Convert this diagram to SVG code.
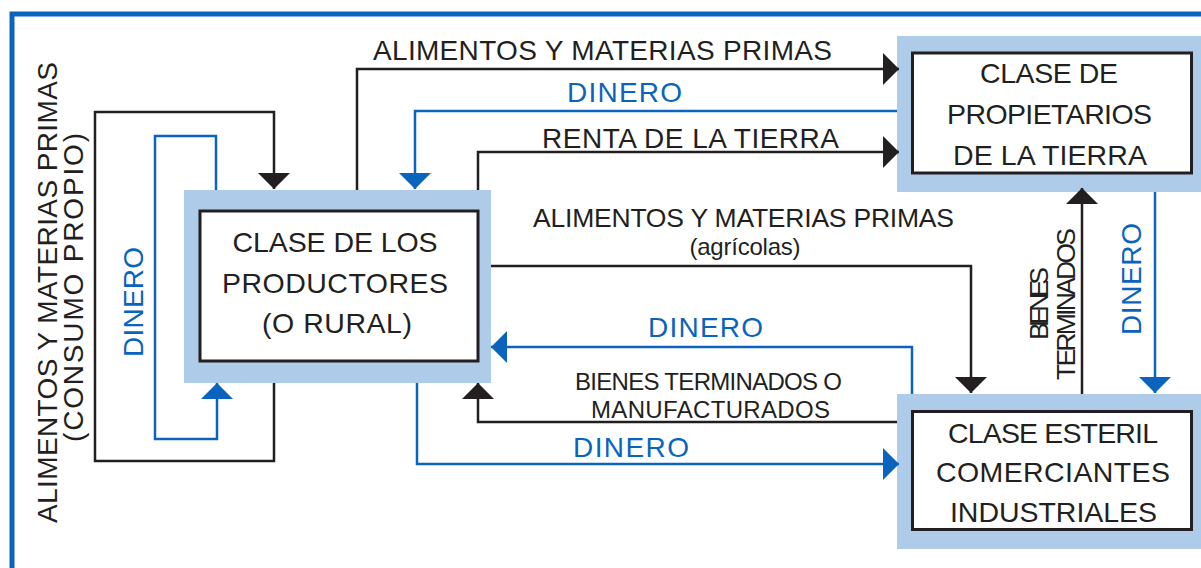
<svg xmlns="http://www.w3.org/2000/svg" width="1201" height="568" viewBox="0 0 1201 568">
<style>
  .halo { fill: #afcbea; }
  .box { fill: #ffffff; stroke: #231f20; stroke-width: 3; }
  .t { font-family: "Liberation Sans", Arial, sans-serif; fill: #231f20; text-anchor: middle; }
  .node { font-size: 28.5px; }
  .lbl { font-size: 28px; }
  .sm { font-size: 26.5px; }
  .xs { font-size: 24px; }
  .blue { fill: #0a64be; }
  .ck { fill: none; stroke: #231f20; stroke-width: 2.5; marker-end: url(#ak); }
  .cb { fill: none; stroke: #0a64be; stroke-width: 2.5; marker-end: url(#ab); }
</style>
<defs>
  <marker id="ak" viewBox="0 0 16 32" refX="16" refY="16" markerWidth="16" markerHeight="32" markerUnits="userSpaceOnUse" orient="auto">
    <path d="M0,0 L16,16 L0,32 Z" fill="#231f20"/>
  </marker>
  <marker id="ab" viewBox="0 0 16 32" refX="16" refY="16" markerWidth="16" markerHeight="32" markerUnits="userSpaceOnUse" orient="auto">
    <path d="M0,0 L16,16 L0,32 Z" fill="#0a64be"/>
  </marker>
</defs>
<rect width="1201" height="568" fill="#ffffff"/>
<path d="M12,568 V14 H1201" fill="none" stroke="#0a64be" stroke-width="5"/>

<g id="productores">
  <rect class="halo" x="184" y="190" width="307" height="193"/>
  <rect class="box" x="200" y="211" width="278" height="150"/>
  <text class="t node" x="335" y="252" textLength="205">CLASE DE LOS</text>
  <text class="t node" x="335" y="293" textLength="226">PRODUCTORES</text>
  <text class="t node" x="337" y="333" textLength="150">(O RURAL)</text>
</g>

<g id="propietarios">
  <rect class="halo" x="897" y="36" width="304" height="156"/>
  <rect class="box" x="912.5" y="53" width="279" height="120"/>
  <text class="t node" x="1049" y="83" textLength="138">CLASE DE</text>
  <text class="t node" x="1049.5" y="124" textLength="205">PROPIETARIOS</text>
  <text class="t node" x="1050" y="165" textLength="194">DE LA TIERRA</text>
</g>

<g id="esteril">
  <rect class="halo" x="897" y="394" width="304" height="155"/>
  <rect class="box" x="912.5" y="411.5" width="279" height="118"/>
  <text class="t node" x="1053" y="443" textLength="210">CLASE ESTERIL</text>
  <text class="t node" x="1053" y="482" textLength="234">COMERCIANTES</text>
  <text class="t node" x="1053.5" y="522" textLength="207">INDUSTRIALES</text>
</g>

<g id="connectors">
  <path class="ck" d="M357,190 V69 H899"/>
  <path class="ck" d="M478,190 V152 H899"/>
  <path class="ck" d="M274,383 V461 H95 V112 H274 V189"/>
  <path class="ck" d="M491,266 H971 V393"/>
  <path class="ck" d="M897,422 H478 V383"/>
  <path class="ck" d="M1082,394 V188"/>
  <path class="cb" d="M897,111 H415 V189"/>
  <path class="cb" d="M216,190 V136 H155 V439 H217 V383"/>
  <path class="cb" d="M912,394 V347 H491"/>
  <path class="cb" d="M417,383 V464 H899"/>
  <path class="cb" d="M1155,192 V393"/>
</g>

<g id="labels">
  <text class="t lbl" x="602.5" y="60" textLength="459">ALIMENTOS Y MATERIAS PRIMAS</text>
  <text class="t lbl blue" x="624.5" y="102" textLength="115">DINERO</text>
  <text class="t lbl" x="690.5" y="148" textLength="297">RENTA DE LA TIERRA</text>
  <text class="t sm" x="743.5" y="227" textLength="421">ALIMENTOS Y MATERIAS PRIMAS</text>
  <text class="t" x="745" y="255" font-size="24" textLength="111">(agrícolas)</text>
  <text class="t lbl blue" x="705.5" y="337" textLength="115">DINERO</text>
  <text class="t xs" x="708.5" y="390" textLength="267">BIENES TERMINADOS O</text>
  <text class="t xs" x="710.5" y="418" textLength="239">MANUFACTURADOS</text>
  <text class="t lbl blue" x="631" y="457" textLength="116">DINERO</text>
  <text class="t lbl" transform="translate(57,292.5) rotate(-90)" x="0" y="0" textLength="461">ALIMENTOS Y MATERIAS PRIMAS</text>
  <text class="t lbl" transform="translate(83,287.5) rotate(-90)" x="0" y="0" textLength="309">(CONSUMO PROPIO)</text>
  <text class="t lbl blue" transform="translate(143,302) rotate(-90)" x="0" y="0" textLength="110">DINERO</text>
  <text class="t sm" transform="translate(1048,303.5) rotate(-90)" x="0" y="0" textLength="73">BIENES</text>
  <text class="t sm" transform="translate(1075,304) rotate(-90)" x="0" y="0" textLength="152">TERMINADOS</text>
  <text class="t lbl blue" transform="translate(1141,279) rotate(-90)" x="0" y="0" textLength="112">DINERO</text>
</g>
</svg>
